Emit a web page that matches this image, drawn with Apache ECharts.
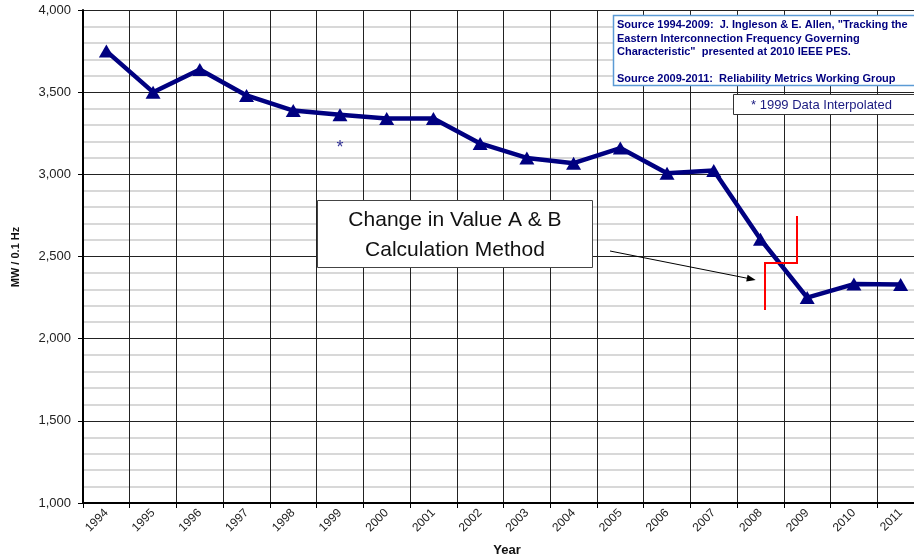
<!DOCTYPE html>
<html>
<head>
<meta charset="utf-8">
<script src="https://cdn.jsdelivr.net/npm/echarts@6/dist/echarts.min.js"></script>
<style>
html,body{margin:0;padding:0;background:#fff;overflow:hidden;}
#chart{width:930px;height:558px;}
</style>
</head>
<body>
<div id="chart"></div>
<script>
const years = ['1994','1995','1996','1997','1998','1999','2000','2001','2002','2003','2004','2005','2006','2007','2008','2009','2010','2011'];
const mwPer01Hz = [3750,3500,3638,3480,3388,3362,3340,3340,3188,3100,3068,3160,3006,3024,2605,2250,2332,2330];
const interpolatedMark = [['1999', 3171]];
const yTicks = {min:1000, max:4000, interval:500};
const sourceLines = [
  'Source 1994-2009:  J. Ingleson & E. Allen, "Tracking the',
  'Eastern Interconnection Frequency Governing',
  'Characteristic"  presented at 2010 IEEE PES.',
  '',
  'Source 2009-2011:  Reliability Metrics Working Group'
];
const interpNote = '* 1999 Data Interpolated';
const changeNote = 'Change in Value A & B\nCalculation Method';
const yName = 'MW / 0.1 Hz';
const xName = 'Year';

const FONT = "'Liberation Sans', Arial, Helvetica, sans-serif";
const NAVY = '#000080';

const chart = echarts.init(document.getElementById('chart'), null, {renderer:'canvas'});
const option = {
  animation:false,
  backgroundColor:'#fff',
  textStyle:{fontFamily:FONT},
  grid:{left:83, top:10, right:6, bottom:55, containLabel:false},
  xAxis:{
    type:'category',
    data:years,
    boundaryGap:true,
    axisLine:{show:true, lineStyle:{color:'#000', width:2}},
    axisTick:{show:true, length:5, interval:0, lineStyle:{color:'#000', width:1}},
    splitLine:{show:true, interval:0, lineStyle:{color:'#222', width:1}},
    axisLabel:{show:true, interval:0, rotate:45, fontSize:12, margin:8, color:'#222', fontFamily:FONT}
  },
  yAxis:{
    type:'value',
    min:yTicks.min, max:yTicks.max, interval:yTicks.interval,
    axisLine:{show:true, lineStyle:{color:'#000', width:2}},
    axisTick:{show:true, length:5, lineStyle:{color:'#000', width:1}},
    splitLine:{show:true, lineStyle:{color:'#222', width:1}},
    minorTick:{show:false, splitNumber:5},
    minorSplitLine:{show:true, lineStyle:{color:'#cccccc', width:1.5}},
    axisLabel:{fontSize:13, margin:12, color:'#222', fontFamily:FONT,
      formatter:function(v){return v.toLocaleString('en-US');}}
  },
  series:[
    {
      type:'line',
      data:mwPer01Hz,
      symbol:'triangle',
      symbolSize:[15,13],
      lineStyle:{color:NAVY, width:4.5},
      itemStyle:{color:NAVY},
      z:5
    },
    {
      type:'scatter',
      data:interpolatedMark,
      symbolSize:1,
      itemStyle:{color:'rgba(0,0,0,0)'},
      label:{show:true, position:'inside', formatter:'*', fontSize:18, color:NAVY, offset:[0,2], fontFamily:FONT},
      z:6
    }
  ],
  graphic:[
    {type:'rect', shape:{x:317.5, y:200.5, width:275, height:67}, style:{fill:'#fff', stroke:'#444', lineWidth:1}, z:10},
    {type:'text', x:455, y:235, style:{text:changeNote, fill:'#111', font:'21px '+FONT, align:'center', verticalAlign:'middle', lineHeight:30}, z:11},
    {type:'line', shape:{x1:610, y1:251, x2:748, y2:278.4}, style:{stroke:'#000', lineWidth:1}, z:10},
    {type:'polygon', shape:{points:[[755.7,280],[746.2,281.6],[747.6,274.8]]}, style:{fill:'#000'}, z:10},
    {type:'polyline', shape:{points:[[765,310],[765,263],[797,263],[797,216]]}, style:{stroke:'#ff0000', lineWidth:2, fill:null}, z:10},
    {type:'rect', shape:{x:613.5, y:15.5, width:310, height:70}, style:{fill:'#fff', stroke:'#5b9bd5', lineWidth:1.5}, z:10},
    {type:'text', x:617, y:18.5, style:{text:sourceLines.join('\n'), fill:NAVY, font:'bold 11px '+FONT, lineHeight:13.5, align:'left', verticalAlign:'top'}, z:11},
    {type:'rect', shape:{x:733.5, y:94.5, width:190, height:20}, style:{fill:'#fff', stroke:'#333', lineWidth:1}, z:10},
    {type:'text', x:751, y:105, style:{text:interpNote, fill:'#1a1a80', font:'13px '+FONT, align:'left', verticalAlign:'middle'}, z:11},
    {type:'text', x:16, y:257, rotation:Math.PI/2, style:{text:yName, fill:'#111', font:'bold 11px '+FONT, align:'center', verticalAlign:'middle'}, z:11},
    {type:'text', x:507, y:550, style:{text:xName, fill:'#111', font:'bold 13px '+FONT, align:'center', verticalAlign:'middle'}, z:11}
  ]
};
chart.setOption(option);
</script>
</body>
</html>
